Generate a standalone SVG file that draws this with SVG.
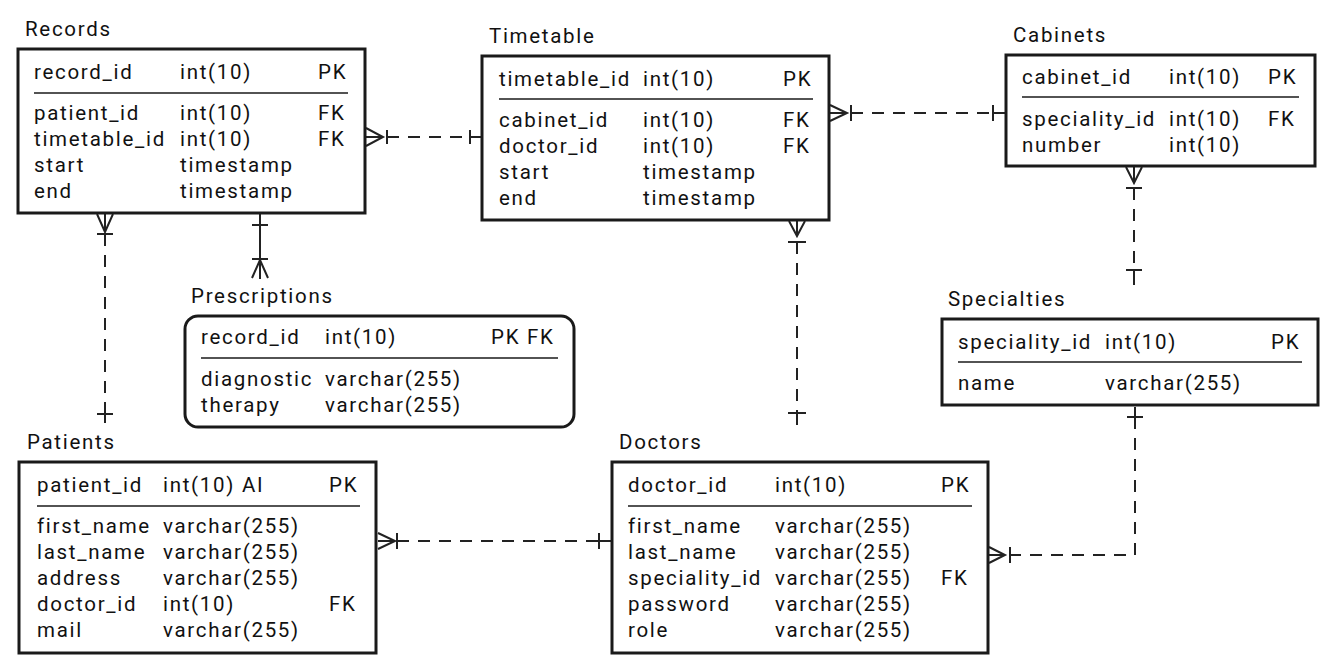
<svg xmlns="http://www.w3.org/2000/svg" width="1339" height="671" viewBox="0 0 1339 671">
<style>
text{font-family:Roboto,"Liberation Sans",sans-serif;font-size:20.5px;fill:#111;letter-spacing:1.7px}
.box{fill:#fff;stroke:#1a1a1a;stroke-width:3}
.sep{stroke:#1a1a1a;stroke-width:1.5}
.ln{stroke:#222;stroke-width:2;fill:none}
.dash{stroke-dasharray:12 9}
</style>
<rect width="1339" height="671" fill="#fff"/>
<g id="connectors">
  <g id="records-timetable">
    <path class="ln" d="M366,128 L383,137 L366,146 M366,137 H383 M387,130 V144 M470,130 V144 M470,137 H482"/>
    <path class="ln dash" d="M387,137 H470"/>
  </g>
  <g id="timetable-cabinets">
    <path class="ln" d="M830,105 L847,113 L830,121 M830,113 H847 M851,105 V121 M993,105 V121 M993,113 H1006"/>
    <path class="ln dash" d="M851,113 H993"/>
  </g>
  <g id="records-patients">
    <path class="ln" d="M97,214 L105,232 L113,214 M105,214 V232 M97,234 H113 M97,414 H113 M105,414 V423"/>
    <path class="ln dash" d="M105,234 V414"/>
  </g>
  <g id="records-prescriptions">
    <path class="ln" d="M260,214 V279 M252,225 H268 M252,259 H268 M252,278 L260,260 L268,278"/>
  </g>
  <g id="timetable-doctors">
    <path class="ln" d="M789,221 L797,236 L805,221 M797,221 V236 M788,242 H806 M788,413 H806 M797,413 V425"/>
    <path class="ln dash" d="M797,242 V413"/>
  </g>
  <g id="cabinets-specialties">
    <path class="ln" d="M1126,167 L1134,183 L1142,167 M1134,167 V183 M1126,188 H1142 M1126,270 H1142 M1134,270 V285"/>
    <path class="ln dash" d="M1134,188 V270"/>
  </g>
  <g id="patients-doctors">
    <path class="ln" d="M378,533 L395,541 L378,549 M378,541 H395 M397,533 V549 M599,533 V549 M599,541 H612"/>
    <path class="ln dash" d="M397,541 H599"/>
  </g>
  <g id="specialties-doctors">
    <path class="ln" d="M1135,407 V417 M1127,417 H1143 M1010,547 V563 M989,547 L1005,555 L989,563 M989,555 H1005"/>
    <path class="ln dash" d="M1135,417 V555 H1010"/>
  </g>
</g>
<g id="records">
  <text x="25" y="36">Records</text>
  <rect class="box" x="18" y="49" width="347" height="164"/>
  <line class="sep" x1="34" y1="93" x2="348" y2="93"/>
  <text x="34" y="79">record_id</text><text x="180" y="79">int(10)</text><text x="318" y="79">PK</text>
  <text x="34" y="120">patient_id</text><text x="180" y="120">int(10)</text><text x="318" y="120">FK</text>
  <text x="34" y="146">timetable_id</text><text x="180" y="146">int(10)</text><text x="318" y="146">FK</text>
  <text x="34" y="172">start</text><text x="180" y="172">timestamp</text>
  <text x="34" y="198">end</text><text x="180" y="198">timestamp</text>
</g>
<g id="timetable">
  <text x="489" y="43">Timetable</text>
  <rect class="box" x="482" y="56" width="347" height="164"/>
  <line class="sep" x1="499" y1="99" x2="813" y2="99"/>
  <text x="499" y="86">timetable_id</text><text x="643" y="86">int(10)</text><text x="783" y="86">PK</text>
  <text x="499" y="127">cabinet_id</text><text x="643" y="127">int(10)</text><text x="783" y="127">FK</text>
  <text x="499" y="153">doctor_id</text><text x="643" y="153">int(10)</text><text x="783" y="153">FK</text>
  <text x="499" y="179">start</text><text x="643" y="179">timestamp</text>
  <text x="499" y="205">end</text><text x="643" y="205">timestamp</text>
</g>
<g id="cabinets">
  <text x="1013" y="42">Cabinets</text>
  <rect class="box" x="1006" y="55" width="309" height="111"/>
  <line class="sep" x1="1022" y1="97" x2="1299" y2="97"/>
  <text x="1022" y="84">cabinet_id</text><text x="1169" y="84">int(10)</text><text x="1268" y="84">PK</text>
  <text x="1022" y="126">speciality_id</text><text x="1169" y="126">int(10)</text><text x="1268" y="126">FK</text>
  <text x="1022" y="152">number</text><text x="1169" y="152">int(10)</text>
</g>
<g id="specialties">
  <text x="948" y="306">Specialties</text>
  <rect class="box" x="942" y="319" width="376" height="86"/>
  <line class="sep" x1="958" y1="362" x2="1302" y2="362"/>
  <text x="958" y="349">speciality_id</text><text x="1105" y="349">int(10)</text><text x="1271" y="349">PK</text>
  <text x="958" y="390">name</text><text x="1105" y="390">varchar(255)</text>
</g>
<g id="prescriptions">
  <text x="191" y="303">Prescriptions</text>
  <rect class="box" x="185" y="316" width="389" height="111" rx="13"/>
  <line class="sep" x1="201" y1="358" x2="558" y2="358"/>
  <text x="201" y="344">record_id</text><text x="325" y="344">int(10)</text><text x="491" y="344">PK FK</text>
  <text x="201" y="386">diagnostic</text><text x="325" y="386">varchar(255)</text>
  <text x="201" y="412">therapy</text><text x="325" y="412">varchar(255)</text>
</g>
<g id="patients">
  <text x="27" y="449">Patients</text>
  <rect class="box" x="19" y="462" width="357" height="191"/>
  <line class="sep" x1="37" y1="506" x2="360" y2="506"/>
  <text x="37" y="492">patient_id</text><text x="163" y="492">int(10) AI</text><text x="329" y="492">PK</text>
  <text x="37" y="533">first_name</text><text x="163" y="533">varchar(255)</text>
  <text x="37" y="559">last_name</text><text x="163" y="559">varchar(255)</text>
  <text x="37" y="585">address</text><text x="163" y="585">varchar(255)</text>
  <text x="37" y="611">doctor_id</text><text x="163" y="611">int(10)</text><text x="329" y="611">FK</text>
  <text x="37" y="637">mail</text><text x="163" y="637">varchar(255)</text>
</g>
<g id="doctors">
  <text x="619" y="449">Doctors</text>
  <rect class="box" x="612" y="462" width="376" height="191"/>
  <line class="sep" x1="628" y1="506" x2="972" y2="506"/>
  <text x="628" y="492">doctor_id</text><text x="775" y="492">int(10)</text><text x="941" y="492">PK</text>
  <text x="628" y="533">first_name</text><text x="775" y="533">varchar(255)</text>
  <text x="628" y="559">last_name</text><text x="775" y="559">varchar(255)</text>
  <text x="628" y="585">speciality_id</text><text x="775" y="585">varchar(255)</text><text x="941" y="585">FK</text>
  <text x="628" y="611">password</text><text x="775" y="611">varchar(255)</text>
  <text x="628" y="637">role</text><text x="775" y="637">varchar(255)</text>
</g>
</svg>
